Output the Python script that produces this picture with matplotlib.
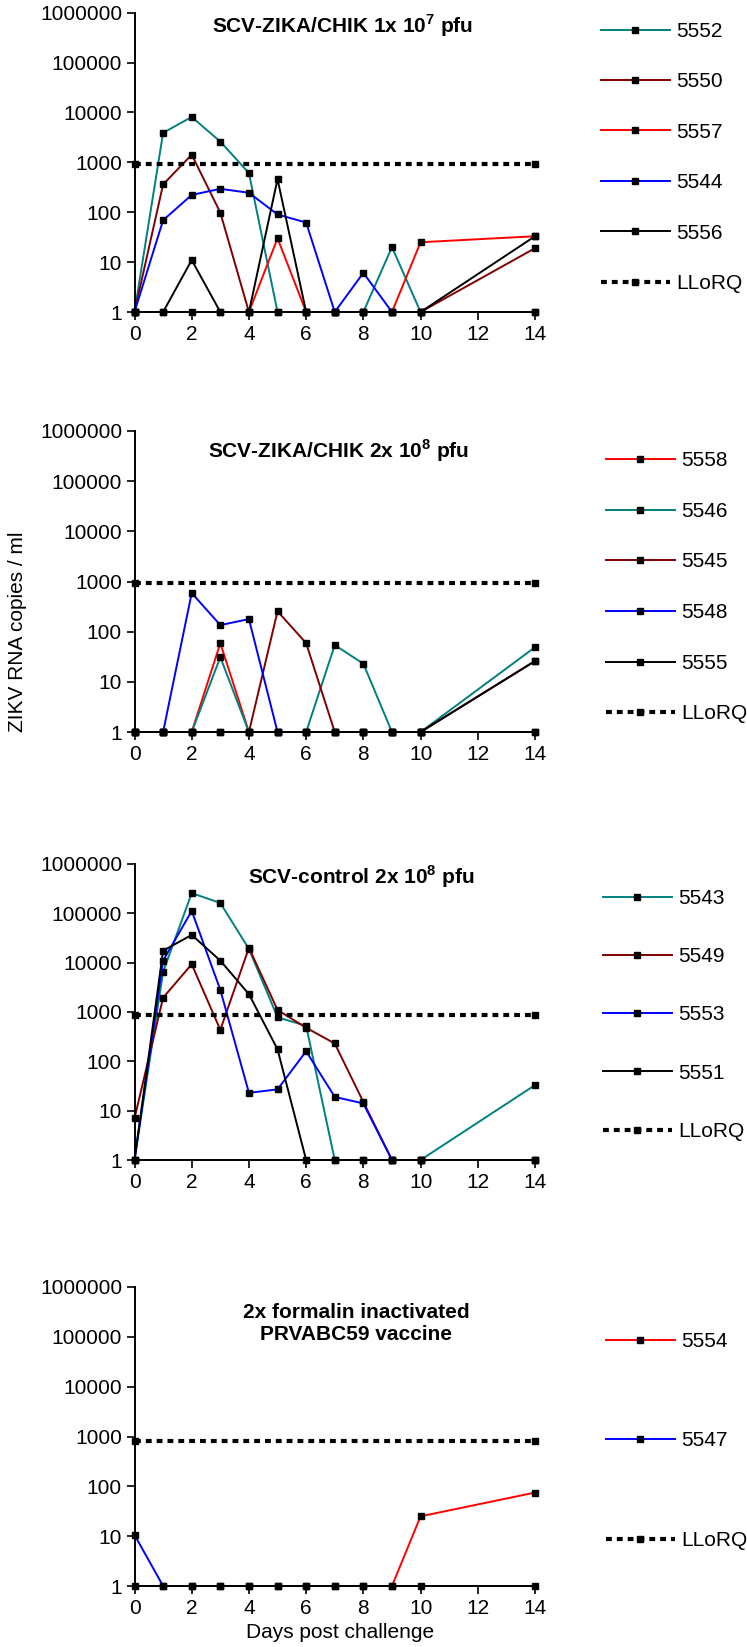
import matplotlib
matplotlib.use("Agg")
import matplotlib.pyplot as plt
import numpy as np

plt.rcParams['font.family'] = ['Liberation Sans', 'DejaVu Sans']
plt.rcParams['mathtext.fontset'] = 'custom'
plt.rcParams['mathtext.rm'] = 'Liberation Sans'
plt.rcParams['mathtext.bf'] = 'Liberation Sans:bold'

days = [0, 1, 2, 3, 4, 5, 6, 7, 8, 9, 10, 14]

# Panel 1: SCV-ZIKA/CHIK 1x 10^7 pfu
p1_labels = ["5552", "5550", "5557", "5544", "5556"]
p1_5552 = [1, 3900, 8100, 2600, 610, 1, 1, 1, 1, 20, 1, 1]
p1_5550 = [1, 360, 1420, 98, 1, 1, 1, 1, 1, 1, 1, 19]
p1_5557 = [1, 1, 1, 1, 1, 30, 1, 1, 1, 1, 25, 33]
p1_5544 = [1, 69, 222, 294, 245, 90, 62, 1, 6.1, 1, 1, 1]
p1_5556 = [1, 1, 11, 1, 1, 460, 1, 1, 1, 1, 1, 33]
p1_llorq = 940

# Panel 2: SCV-ZIKA/CHIK 2x 10^8 pfu
p2_labels = ["5558", "5546", "5545", "5548", "5555"]
p2_5558 = [1, 1, 1, 59, 1, 1, 1, 1, 1, 1, 1, 1]
p2_5546 = [1, 1, 1, 31, 1, 1, 1, 54, 23, 1, 1, 49]
p2_5545 = [1, 1, 1, 1, 1, 255, 59, 1, 1, 1, 1, 26]
p2_5548 = [1, 1, 590, 135, 178, 1, 1, 1, 1, 1, 1, 1]
p2_5555 = [1, 1, 1, 1, 1, 1, 1, 1, 1, 1, 1, 26]
p2_llorq = 930

# Panel 3: SCV-control 2x 10^8 pfu
p3_labels = ["5543", "5549", "5553", "5551"]
p3_5543 = [1, 6500, 257000, 162000, 19000, 780, 525, 1, 1, 1, 1, 33]
p3_5549 = [7, 1950, 9300, 435, 20000, 1100, 480, 230, 15, 1, 1, 1]
p3_5553 = [1, 11000, 112000, 2800, 23, 27, 160, 19, 14, 1, 1, 1]
p3_5551 = [1, 17500, 36500, 11000, 2300, 175, 1, 1, 1, 1, 1, 1]
p3_llorq = 870

# Panel 4: 2x formalin inactivated PRVABC59 vaccine
p4_labels = ["5554", "5547"]
p4_5554 = [1, 1, 1, 1, 1, 1, 1, 1, 1, 1, 25, 75]
p4_5547 = [10.6, 1, 1, 1, 1, 1, 1, 1, 1, 1, 1, 1]
p4_llorq = 820

xticks = [0, 2, 4, 6, 8, 10, 12, 14]
yticks = [1, 10, 100, 1000, 10000, 100000, 1000000]
ytick_labels = ["1", "10", "100", "1000", "10000", "100000", "1000000"]

TEAL = "#008080"
BROWN = "#800000"
RED = "#ff0000"
BLUE = "#0000ff"
BLACK = "#000000"

W, H = 747, 1647
fig = plt.figure(figsize=(W / 100, H / 100), dpi=100)

FS = 15

def add_panel(top_px, bottom_px, series, labels, colors, llorq, title,
              title_frac, leg_x, leg_yc, leg_ls):
    left, right = 134.5, 535
    ax = fig.add_axes([left / W, 1 - bottom_px / H, (right - left) / W,
                       (bottom_px - top_px) / H])
    handles = []
    for ys, lab, c in zip(series, labels, colors):
        h, = ax.plot(days, ys, color=c, lw=1.4, marker='s', ms=4.5,
                     mfc='black', mec='black', clip_on=False, label=lab)
        handles.append(h)
    h, = ax.plot([days[0], days[-1]], [llorq, llorq], color='black', lw=3.0,
                 linestyle=(0, (1.4, 1.2)), marker='s', ms=4.5, mfc='black',
                 mec='black', clip_on=False, label='LLoRQ', zorder=5)
    handles.append(h)
    ax.set_yscale('log')
    ax.set_ylim(1, 1e6)
    ax.set_xlim(0, 14)
    ax.set_yticks(yticks)
    ax.set_yticklabels(ytick_labels)
    ax.minorticks_off()
    ax.set_xticks(xticks)
    ax.set_xticklabels([str(t) for t in xticks])
    ax.tick_params(axis='both', labelsize=FS, length=6, width=1.2,
                   direction='out', pad=3, colors='black')
    for s in ['top', 'right']:
        ax.spines[s].set_visible(False)
    for s in ['left', 'bottom']:
        ax.spines[s].set_linewidth(1.4)
    ax.patch.set_alpha(0)
    ax.text(title_frac[0], title_frac[1], title,
            transform=ax.transAxes, ha='center', va='center',
            fontsize=15, fontweight='bold', linespacing=1.2)
    fig.legend(handles=handles, loc='center left',
               bbox_to_anchor=(leg_x / W, 1 - leg_yc / H), frameon=False,
               fontsize=FS, handlelength=3.3, handletextpad=0.3,
               labelspacing=leg_ls, numpoints=1, borderpad=0,
               borderaxespad=0)
    return ax

add_panel(12.6, 312, [p1_5552, p1_5550, p1_5557, p1_5544, p1_5556], p1_labels,
          [TEAL, BROWN, RED, BLUE, BLACK], p1_llorq,
          r"SCV-ZIKA/CHIK 1x 10$^{\mathbf{7}}$ pfu", (0.52, 0.957),
          601, 157.5, 1.51)
add_panel(431, 732, [p2_5558, p2_5546, p2_5545, p2_5548, p2_5555], p2_labels,
          [RED, TEAL, BROWN, BLUE, BLACK], p2_llorq,
          r"SCV-ZIKA/CHIK 2x 10$^{\mathbf{8}}$ pfu", (0.509, 0.936),
          606, 587.3, 1.52)
add_panel(864, 1160, [p3_5543, p3_5549, p3_5553, p3_5551], p3_labels,
          [TEAL, BROWN, BLUE, BLACK], p3_llorq,
          r"SCV-control 2x 10$^{\mathbf{8}}$ pfu", (0.566, 0.956),
          603, 1015, 1.88)
add_panel(1287, 1586, [p4_5554, p4_5547], p4_labels,
          [RED, BLUE], p4_llorq,
          "2x formalin inactivated\nPRVABC59 vaccine", (0.554, 0.878),
          606, 1441, 3.86)

fig.text(18 / W, 1 - 632 / H, "ZIKV RNA copies / ml", rotation=90,
         ha='center', va='center', fontsize=15)
fig.text(340 / W, 1 - 1633 / H, "Days post challenge", ha='center',
         va='center', fontsize=15)

fig.savefig("out.png", dpi=100)
